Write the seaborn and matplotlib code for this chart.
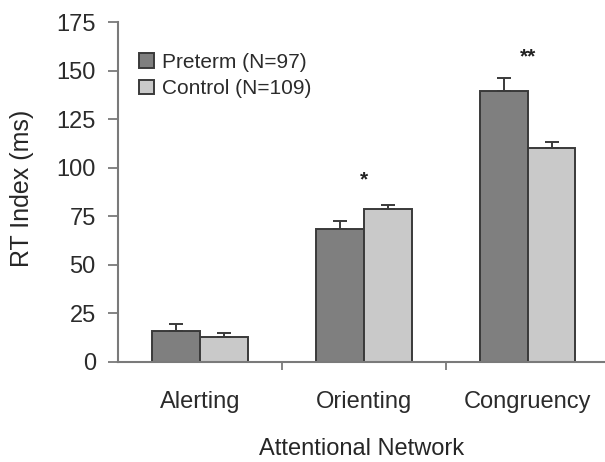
import pandas as pd
import seaborn as sns
import matplotlib.pyplot as plt

# values
networks = ["Alerting", "Orienting", "Congruency"]
groups = ["Preterm (N=97)", "Control (N=109)"]
preterm_rt = [16.1, 68.3, 139.6]
control_rt = [12.7, 78.6, 110.4]
preterm_se = [3.4, 4.4, 6.5]
control_se = [2.4, 2.4, 3.0]
stars = {"Orienting": ("*", 89), "Congruency": ("**", 152)}


def set_config():
    sns.set_theme(style="ticks")
    plt.rcParams['font.family'] = ["Liberation Sans", "DejaVu Sans"]
    plt.rcParams['text.color'] = "#2b2b2b"
    plt.rcParams['xtick.color'] = "#7a7a7a"
    plt.rcParams['ytick.color'] = "#7a7a7a"
    plt.rcParams['xtick.labelcolor'] = "#2b2b2b"
    plt.rcParams['ytick.labelcolor'] = "#2b2b2b"


def main():
    set_config()
    df = pd.DataFrame({
        "network": networks * 2,
        "group": [groups[0]] * 3 + [groups[1]] * 3,
        "rt": preterm_rt + control_rt,
    })

    fig = plt.figure(figsize=(6.05, 4.62), dpi=100)
    ax = fig.add_axes([0.195, 0.2165, 0.805, 0.7355])

    sns.barplot(data=df, x="network", y="rt", hue="group", order=networks,
                hue_order=groups, palette=["#7f7f7f", "#c9c9c9"], width=0.58,
                edgecolor="#3a3a3a", linewidth=1.4, errorbar=None, ax=ax)

    # one-sided error bars on top of each bar
    for cont, errs in zip(ax.containers, [preterm_se, control_se]):
        xs = [p.get_x() + p.get_width() / 2 for p in cont.patches]
        ys = [p.get_height() for p in cont.patches]
        ax.errorbar(xs, ys, yerr=[[0] * len(errs), errs], fmt="none",
                    ecolor="#3a3a3a", elinewidth=1.4, capsize=5, capthick=1.4)

    for name, (s, y) in stars.items():
        ax.text(networks.index(name), y, s, ha="center", va="bottom",
                fontsize=15, fontweight="bold", color="#222222")

    ax.set_ylim(0, 175)
    ax.set_yticks(range(0, 176, 25))
    ax.set_xlim(-0.5, 2.47)
    ax.set_xticks([0.5, 1.5], minor=True)
    ax.tick_params(axis="x", which="major", bottom=False, pad=15, labelsize=17)
    ax.tick_params(axis="x", which="minor", bottom=True, length=6, width=1.3,
                   direction="out")
    ax.tick_params(axis="y", left=True, length=7, width=1.3, direction="out",
                   pad=9, labelsize=17)

    sns.despine(ax=ax)
    for side in ["left", "bottom"]:
        ax.spines[side].set_color("#7a7a7a")
        ax.spines[side].set_linewidth(1.5)

    ax.set_xlabel("Attentional Network", fontsize=17, labelpad=18)
    ax.set_ylabel("RT Index (ms)", fontsize=18)
    ax.yaxis.set_label_coords(-0.172, 0.51)

    ax.legend(loc="upper left", bbox_to_anchor=(0.005, 0.965), frameon=False,
              fontsize=15, handlelength=0.7, handleheight=0.7, handletextpad=0.4,
              labelspacing=0.35)

    fig.savefig("out.png", dpi=100)


if __name__ == "__main__":
    main()
